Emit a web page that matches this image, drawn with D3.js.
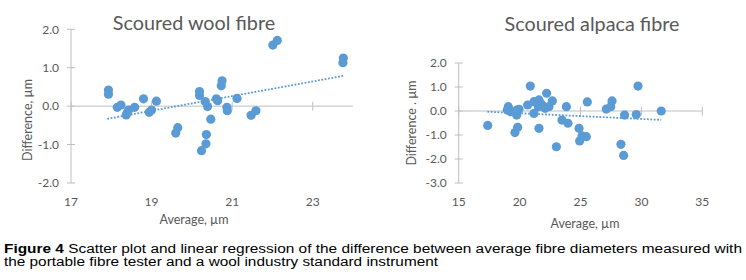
<!DOCTYPE html>
<html><head><meta charset="utf-8">
<script src="https://cdn.jsdelivr.net/npm/d3@7"></script>
<style>
body{margin:0;background:#fff;}
svg{display:block;}
</style></head>
<body><svg id="c" width="746" height="280"></svg>
<script>
// ---- Data ----
const woolX = [17.93,17.93,18.15,18.24,18.37,18.43,18.40,18.58,18.80,18.94,19.00,19.12,19.60,19.65,20.19,20.19,20.33,20.39,20.47,20.36,20.35,20.24,20.61,20.64,20.75,20.73,20.87,20.88,21.12,21.47,21.59,22.01,22.12,23.76,23.75];
const woolY = [0.42,0.31,-0.03,0.03,-0.23,-0.10,-0.16,-0.03,0.19,-0.16,-0.10,0.13,-0.70,-0.56,0.38,0.28,0.12,-0.01,-0.34,-0.74,-0.98,-1.16,0.19,0.14,0.66,0.53,-0.03,-0.12,0.20,-0.24,-0.12,1.59,1.71,1.25,1.13];
const woolTrendX = [17.9,23.77];
const woolTrendY = [-0.33,0.79];
const woolXTicks = [17,19,21,23];
const woolYTicks = [-2,-1,0,1,2];

const alpacaX = [17.38,19.07,18.99,19.27,19.76,19.76,19.95,19.62,19.84,20.66,20.88,21.18,21.18,21.59,21.54,21.81,22.09,21.59,22.22,22.41,22.69,23.02,23.48,23.84,23.97,24.88,24.93,25.12,25.48,25.56,27.12,27.48,27.59,28.32,28.54,28.62,29.58,29.72,31.63];
const alpacaY = [-0.60,0.18,0.04,-0.03,-0.17,0.04,0.07,-0.90,-0.68,0.25,1.04,0.39,-0.10,0.46,0.18,0.28,0.11,-0.72,0.74,0.18,0.42,-1.49,-0.38,0.18,-0.51,-0.72,-1.25,-1.04,-1.07,0.38,0.08,0.18,0.42,-1.39,-1.85,-0.17,-0.15,1.04,0.00];
const alpacaTrendX = [17.35,31.63];
const alpacaTrendY = [-0.03,-0.37];
const alpacaXTicks = [15,20,25,30,35];
const alpacaYTicks = [-3,-2,-1,0,1,2];

const caption1b = "Figure 4";
const caption1 = " Scatter plot and linear regression of the difference between average fibre diameters measured with";
const caption2 = "the portable fibre tester and a wool industry standard instrument";

// ---- Drawing ----
const svg = d3.select("#c");
const dotColor = "#5b9bd5", axisColor = "#bfbfbf", textColor = "#595959";
const font = "Lato, 'Open Sans', sans-serif";

function panel(o){
  const x = d3.scaleLinear().domain(o.xDomain).range([o.x0,o.x1]);
  const y = d3.scaleLinear().domain(o.yDomain).range([o.y1,o.y0]);
  const g = svg.append("g");
  g.append("line").attr("x1",x(o.xDomain[0])).attr("x2",x(o.xDomain[0]))
    .attr("y1",y(o.yDomain[0])).attr("y2",y(o.yDomain[1]))
    .attr("stroke",axisColor).attr("stroke-width",1);
  g.selectAll(".yt").data(o.yTicks).enter().append("line")
    .attr("x1",x(o.xDomain[0])-4).attr("x2",x(o.xDomain[0])+4)
    .attr("y1",d=>y(d)).attr("y2",d=>y(d))
    .attr("stroke",axisColor);
  g.selectAll(".yl").data(o.yTicks).enter().append("text")
    .attr("x",x(o.xDomain[0])-12).attr("y",d=>y(d)).attr("dy","0.35em")
    .attr("text-anchor","end").attr("font-family",font).attr("font-size",12)
    .attr("fill",textColor).text(d=>d3.format(".1f")(d).replace("−","-"));
  g.append("line").attr("x1",x(o.xDomain[0])).attr("x2",x(o.xDomain[1]))
    .attr("y1",y(0)).attr("y2",y(0)).attr("stroke",axisColor);
  g.selectAll(".xt").data(o.xTicks).enter().append("line")
    .attr("x1",d=>x(d)).attr("x2",d=>x(d))
    .attr("y1",y(0)-4.5).attr("y2",y(0)+4.5).attr("stroke",axisColor);
  g.selectAll(".xl").data(o.xTicks).enter().append("text")
    .attr("x",d=>x(d)).attr("y",y(o.yDomain[0])+19)
    .attr("dy","0.35em")
    .attr("text-anchor","middle").attr("font-family",font).attr("font-size",12)
    .attr("fill",textColor).text(d=>d);
  g.selectAll(".pt").data(o.xs.map((v,i)=>[v,o.ys[i]])).enter().append("circle")
    .attr("cx",d=>x(d[0])).attr("cy",d=>y(d[1])).attr("r",4.6).attr("fill",dotColor);
  g.append("line").attr("x1",x(o.tx[0])).attr("x2",x(o.tx[1]))
    .attr("y1",y(o.ty[0])).attr("y2",y(o.ty[1]))
    .attr("stroke",dotColor).attr("stroke-width",1.8).attr("stroke-dasharray","1.8,1.6");
  g.append("text").attr("x",o.titleX).attr("y",o.titleY).attr("text-anchor","middle")
    .attr("font-family",font).attr("font-size",19.8).attr("fill",textColor).text(o.title);
  g.append("text").attr("x",o.xlabX).attr("y",o.xlabY).attr("text-anchor","middle")
    .attr("font-family",font).attr("font-size",12.5).attr("fill",textColor).text("Average, µm");
  g.append("text").attr("transform",`translate(${o.ylabX},${o.ylabY}) rotate(-90)`)
    .attr("text-anchor","middle")
    .attr("font-family",font).attr("font-size",12.5).attr("fill",textColor).text(o.ylab);
}

panel({xDomain:[17,24], yDomain:[-2,2], x0:71, x1:353, y0:29.3, y1:183,
  xs:woolX, ys:woolY, tx:woolTrendX, ty:woolTrendY, xTicks:woolXTicks, yTicks:woolYTicks,
  title:"Scoured wool fibre", titleX:194, titleY:30, xlabX:194, xlabY:224,
  ylab:"Difference, µm", ylabX:32, ylabY:120});

panel({xDomain:[15,35], yDomain:[-3,2], x0:458.7, x1:702.3, y0:63, y1:183,
  xs:alpacaX, ys:alpacaY, tx:alpacaTrendX, ty:alpacaTrendY, xTicks:alpacaXTicks, yTicks:alpacaYTicks,
  title:"Scoured alpaca fibre", titleX:592, titleY:31, xlabX:585, xlabY:228,
  ylab:"Difference . µm", ylabX:416, ylabY:123});

const capFont = "'Liberation Sans', Arial, sans-serif";
const cap = svg.append("text").attr("x",4).attr("y",252.5)
  .attr("font-family",capFont).attr("font-size",12.5).attr("fill","#000")
  .attr("textLength",738).attr("lengthAdjust","spacingAndGlyphs");
cap.append("tspan").attr("font-weight","bold").text(caption1b);
cap.append("tspan").text(caption1);
svg.append("text").attr("x",4).attr("y",265.5)
  .attr("font-family",capFont).attr("font-size",12.5).attr("fill","#000")
  .attr("textLength",434).attr("lengthAdjust","spacingAndGlyphs")
  .text(caption2);
</script>
</body></html>
